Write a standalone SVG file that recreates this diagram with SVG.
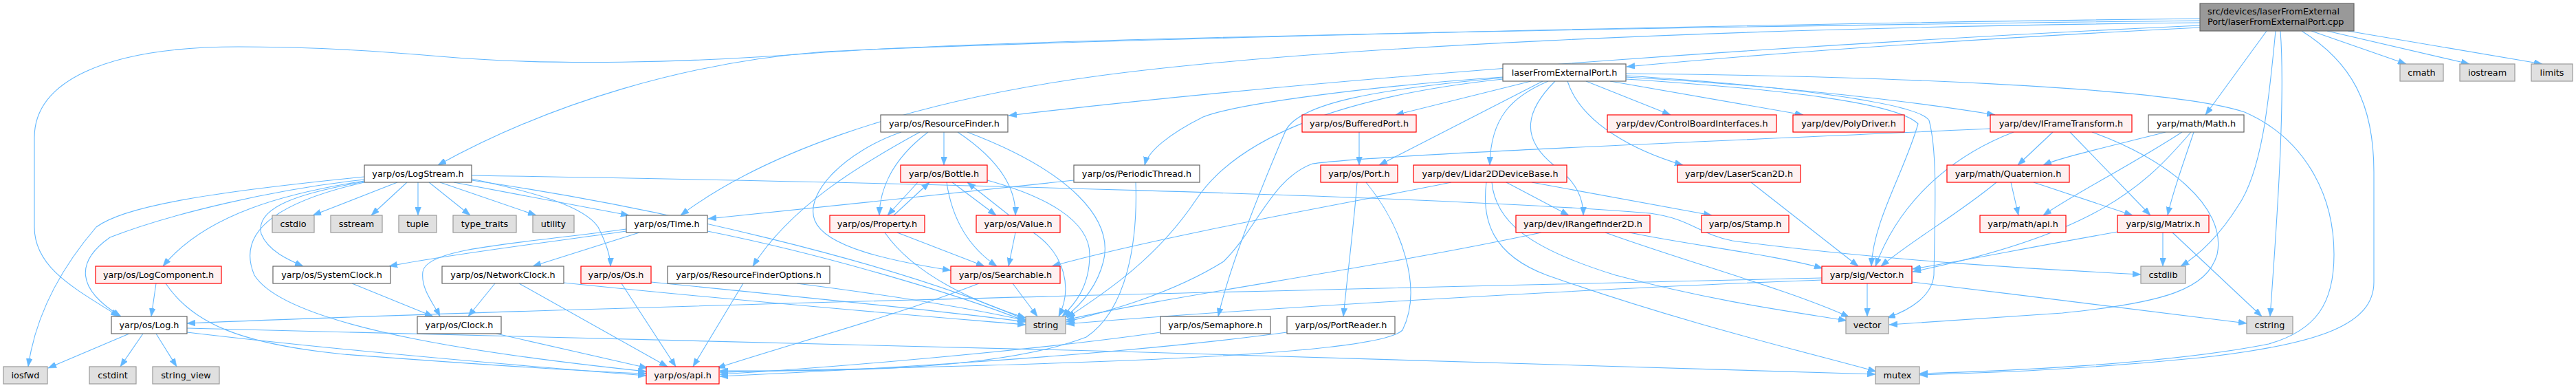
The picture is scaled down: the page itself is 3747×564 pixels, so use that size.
<svg xmlns="http://www.w3.org/2000/svg" width="3747" height="564" viewBox="0 0 3747 564">
<style>
.w{fill:#ffffff;stroke:#666666;stroke-width:1.2}
.r{fill:#fff0f0;stroke:#ff0000;stroke-width:1.2}
.g{fill:#e0e0e0;stroke:#999999;stroke-width:1.2}
.rt{fill:#999999;stroke:#666666;stroke-width:1.2}
text{font-family:"DejaVu Sans","Liberation Sans",sans-serif;font-size:12.8px;fill:#000000;text-anchor:middle}
text.l{text-anchor:start}
#edges path{fill:none;stroke:#63b8ff;stroke-width:1.1;marker-end:url(#ah)}
</style>
<defs>
<marker id="ah" viewBox="0 0 12 9" refX="12" refY="4.5" markerWidth="12" markerHeight="9" markerUnits="userSpaceOnUse" orient="auto"><path d="M0,0 L12,4.5 L0,9 z" fill="#63b8ff" stroke="#63b8ff" stroke-width="0.5"/></marker>
</defs>
<rect x="0" y="0" width="3747" height="564" fill="#ffffff"/>
<g id="edges">
<path d="M3200,40 C2900,55 2600,75 2366,97"/>
<path d="M3200,37 C2700,60 2000,105 1467,168"/>
<path d="M3200,27 C2500,35 1500,60 1200,75 C1000,90 800,150 637,240"/>
<path d="M3200,30 C2500,38 1500,55 1200,76 C1000,92 800,96 640,82 C500,70 420,68 347,68 C150,68 50,120 50,200 L50,330 C50,390 110,420 173,460"/>
<path d="M3200,33 C2500,40 1900,70 1600,110 C1300,150 1100,230 990,313"/>
<path d="M3362,45 L3500,93"/>
<path d="M3385,45 L3592,93"/>
<path d="M3415,45 L3698,93"/>
<path d="M3297,45 L3208,167"/>
<path d="M3310,45 C3300,150 3290,250 3255,300 C3230,340 3200,370 3172,387"/>
<path d="M3317,45 C3325,150 3310,350 3302,460"/>
<path d="M3348,45 C3420,90 3453,150 3453,250 L3453,410 C3453,470 3380,500 3200,520 C3000,540 2850,543 2792,545"/>
<path d="M2227,118 L2030,167"/>
<path d="M2244,118 L2006,240"/>
<path d="M2252,118 C2200,140 2168,170 2167,240"/>
<path d="M2262,118 C2220,160 2210,200 2260,240 C2295,265 2303,290 2303,313"/>
<path d="M2280,118 C2300,180 2380,220 2448,240"/>
<path d="M2307,118 L2430,167"/>
<path d="M2342,118 L2623,167"/>
<path d="M2365,112 C2600,125 2800,150 2902,167"/>
<path d="M2365,115 C2600,130 2760,150 2790,180 C2770,250 2725,320 2722,387"/>
<path d="M2365,110 C2600,125 2790,150 2806,175 C2818,220 2815,300 2813,400 C2810,430 2780,450 2745,462"/>
<path d="M2365,107 C2700,110 3150,125 3265,163 C3350,200 3395,280 3395,370 C3395,440 3370,480 3300,500 C3150,530 2900,540 2792,543"/>
<path d="M2186,112 C2000,125 1800,150 1750,170 C1700,195 1670,220 1665,240"/>
<path d="M2186,115 C1950,140 1800,200 1740,290 C1680,380 1600,430 1552,462"/>
<path d="M2186,113 C2000,130 1890,150 1870,190 C1840,260 1790,380 1772,460"/>
<path d="M1977,192 L1977,240"/>
<path d="M2986,192 L2935,240"/>
<path d="M3011,192 L3128,313"/>
<path d="M3043,192 C3150,230 3240,300 3225,370 C3210,420 3150,440 3000,455 C2850,465 2780,470 2748,472"/>
<path d="M2929,192 C2830,230 2760,300 2728,387"/>
<path d="M2895,187 C2500,205 2000,225 1909,238 C1850,260 1830,330 1780,380 C1700,430 1600,455 1551,468"/>
<path d="M2242,338 C2000,390 1700,430 1551,465"/>
<path d="M2335,338 C2450,380 2600,420 2690,461"/>
<path d="M2370,338 C2450,355 2580,370 2651,390"/>
<path d="M2111,265 C1990,290 1700,340 1530,387"/>
<path d="M2162,265 C2155,320 2170,370 2250,400 C2450,470 2620,510 2729,540"/>
<path d="M2170,265 C2175,320 2220,360 2350,400 C2500,440 2620,455 2686,466"/>
<path d="M2191,265 L2282,313"/>
<path d="M2228,265 L2490,313"/>
<path d="M1974,265 C1970,320 1960,400 1954,460"/>
<path d="M1987,265 C2040,330 2070,420 2040,480 C2000,520 1500,530 1047,541"/>
<path d="M1562,262 C1400,280 1200,300 1030,318"/>
<path d="M1652,265 C1655,350 1640,450 1580,490 C1450,540 1200,540 1047,539"/>
<path d="M1688,483 C1500,510 1200,535 1047,544"/>
<path d="M1872,483 C1600,520 1200,540 1047,547"/>
<path d="M3150,192 C3080,210 3000,228 2972,240"/>
<path d="M3174,192 C3100,240 3020,280 2972,313"/>
<path d="M3187,192 C3120,270 3050,340 2782,395"/>
<path d="M3191,192 C3175,240 3160,280 3153,313"/>
<path d="M2904,265 C2850,310 2780,350 2736,387"/>
<path d="M2925,265 L2936,313"/>
<path d="M2958,265 L3102,313"/>
<path d="M2547,265 L2703,387"/>
<path d="M3080,337 C2950,360 2850,380 2782,391"/>
<path d="M3146,338 L3146,387"/>
<path d="M3160,338 L3290,460"/>
<path d="M2716,412 L2716,460"/>
<path d="M2781,410 C2950,430 3150,455 3268,470"/>
<path d="M2650,404 C2200,415 1000,440 272,470"/>
<path d="M2650,407 C2300,420 1800,450 1551,471"/>
<path d="M578,265 L455,313"/>
<path d="M592,265 L540,313"/>
<path d="M608,265 L608,313"/>
<path d="M624,265 L684,313"/>
<path d="M640,265 L780,313"/>
<path d="M660,265 L915,313"/>
<path d="M686,260 C780,280 850,300 870,330 C885,360 888,375 888,387"/>
<path d="M686,262 C950,300 1300,380 1492,465"/>
<path d="M686,255 C1300,265 2100,285 2400,310 C2460,318 2470,340 2520,350 C2750,380 2980,392 3114,399"/>
<path d="M530,263 C420,280 300,310 237,387"/>
<path d="M530,264 C440,280 370,300 380,340 C390,365 420,378 441,387"/>
<path d="M530,265 C420,290 340,330 370,400 C420,480 750,520 940,540"/>
<path d="M530,261 C400,275 250,310 160,345 C110,380 110,420 176,460"/>
<path d="M530,257 C300,280 180,300 140,330 C80,400 50,470 41,533"/>
<path d="M227,412 L220,460"/>
<path d="M241,412 C280,470 350,500 500,515 C700,530 850,540 940,543"/>
<path d="M512,412 L630,460"/>
<path d="M188,485 L70,535"/>
<path d="M208,485 L175,533"/>
<path d="M227,485 L257,533"/>
<path d="M272,483 C500,510 800,535 940,546"/>
<path d="M272,477 C900,490 2000,520 2728,544"/>
<path d="M930,338 L775,387"/>
<path d="M911,333 C750,355 620,360 615,395 C612,420 630,440 640,460"/>
<path d="M911,336 C800,352 650,370 566,387"/>
<path d="M1029,336 C1200,370 1400,430 1492,467"/>
<path d="M720,412 L681,460"/>
<path d="M755,412 L971,533"/>
<path d="M820,411 C1100,440 1350,460 1492,472"/>
<path d="M904,412 L983,533"/>
<path d="M947,410 C1150,430 1400,455 1492,468"/>
<path d="M1081,412 L1008,533"/>
<path d="M1159,412 C1300,430 1420,450 1492,466"/>
<path d="M722,485 L942,535"/>
<path d="M1424,412 C1300,460 1150,500 1043,535"/>
<path d="M1473,412 L1509,460"/>
<path d="M1373,192 L1373,240"/>
<path d="M1350,192 C1300,230 1280,270 1279,313"/>
<path d="M1393,192 C1450,230 1478,270 1477,313"/>
<path d="M1407,192 C1560,250 1620,320 1605,380 C1595,420 1570,445 1548,462"/>
<path d="M1338,192 C1250,240 1150,300 1095,387"/>
<path d="M1311,192 C1230,220 1170,280 1185,320 C1200,360 1300,380 1383,393"/>
<path d="M1335,265 L1291,313"/>
<path d="M1300,313 L1352,265"/>
<path d="M1385,265 L1449,313"/>
<path d="M1468,313 L1407,265"/>
<path d="M1377,265 C1385,320 1410,360 1450,387"/>
<path d="M1436,262 C1520,285 1585,320 1585,370 C1585,420 1560,445 1545,460"/>
<path d="M1305,338 L1432,387"/>
<path d="M1287,338 C1330,400 1420,440 1492,462"/>
<path d="M1477,338 L1467,387"/>
<path d="M1503,338 C1550,370 1560,420 1540,460"/>
</g>
<g id="n_root"><rect class="rt" x="3200" y="5" width="224" height="40"/><text class="l" x="3211" y="21">src/devices/laserFromExternal</text><text class="l" x="3211" y="36">Port/laserFromExternalPort.cpp</text></g>
<g id="n_lfep"><rect class="w" x="2186" y="93" width="179" height="25"/><text x="2275.5" y="110">laserFromExternalPort.h</text></g>
<g id="n_cmath"><rect class="g" x="3491" y="93" width="63" height="25"/><text x="3522.5" y="110">cmath</text></g>
<g id="n_iostream"><rect class="g" x="3578" y="93" width="80" height="25"/><text x="3618" y="110">iostream</text></g>
<g id="n_limits"><rect class="g" x="3682" y="93" width="60" height="25"/><text x="3712" y="110">limits</text></g>
<g id="n_rf"><rect class="w" x="1281" y="167" width="185" height="25"/><text x="1373.5" y="184">yarp/os/ResourceFinder.h</text></g>
<g id="n_bport"><rect class="r" x="1894" y="167" width="166" height="25"/><text x="1977" y="184">yarp/os/BufferedPort.h</text></g>
<g id="n_cbi"><rect class="r" x="2338" y="167" width="246" height="25"/><text x="2461" y="184">yarp/dev/ControlBoardInterfaces.h</text></g>
<g id="n_poly"><rect class="r" x="2608" y="167" width="162" height="25"/><text x="2689" y="184">yarp/dev/PolyDriver.h</text></g>
<g id="n_ift"><rect class="r" x="2895" y="167" width="206" height="25"/><text x="2998" y="184">yarp/dev/IFrameTransform.h</text></g>
<g id="n_math"><rect class="w" x="3125" y="167" width="139" height="25"/><text x="3194.5" y="184">yarp/math/Math.h</text></g>
<g id="n_logstream"><rect class="w" x="530" y="240" width="156" height="25"/><text x="608" y="257">yarp/os/LogStream.h</text></g>
<g id="n_bottle"><rect class="r" x="1310" y="240" width="126" height="25"/><text x="1373" y="257">yarp/os/Bottle.h</text></g>
<g id="n_pthread"><rect class="w" x="1562" y="240" width="183" height="25"/><text x="1653.5" y="257">yarp/os/PeriodicThread.h</text></g>
<g id="n_port"><rect class="r" x="1921" y="240" width="112" height="25"/><text x="1977" y="257">yarp/os/Port.h</text></g>
<g id="n_lidar"><rect class="r" x="2056" y="240" width="223" height="25"/><text x="2167.5" y="257">yarp/dev/Lidar2DDeviceBase.h</text></g>
<g id="n_lscan"><rect class="r" x="2440" y="240" width="179" height="25"/><text x="2529.5" y="257">yarp/dev/LaserScan2D.h</text></g>
<g id="n_quat"><rect class="r" x="2832" y="240" width="178" height="25"/><text x="2921" y="257">yarp/math/Quaternion.h</text></g>
<g id="n_cstdio"><rect class="g" x="396" y="313" width="61" height="25"/><text x="426.5" y="330">cstdio</text></g>
<g id="n_sstream"><rect class="g" x="481" y="313" width="75" height="25"/><text x="518.5" y="330">sstream</text></g>
<g id="n_tuple"><rect class="g" x="580" y="313" width="55" height="25"/><text x="607.5" y="330">tuple</text></g>
<g id="n_typetraits"><rect class="g" x="659" y="313" width="92" height="25"/><text x="705" y="330">type_traits</text></g>
<g id="n_utility"><rect class="g" x="775" y="313" width="60" height="25"/><text x="805" y="330">utility</text></g>
<g id="n_time"><rect class="w" x="911" y="313" width="118" height="25"/><text x="970" y="330">yarp/os/Time.h</text></g>
<g id="n_property"><rect class="r" x="1207" y="313" width="138" height="25"/><text x="1276" y="330">yarp/os/Property.h</text></g>
<g id="n_value"><rect class="r" x="1420" y="313" width="122" height="25"/><text x="1481" y="330">yarp/os/Value.h</text></g>
<g id="n_irange"><rect class="r" x="2205" y="313" width="195" height="25"/><text x="2302.5" y="330">yarp/dev/IRangefinder2D.h</text></g>
<g id="n_stamp"><rect class="r" x="2475" y="313" width="127" height="25"/><text x="2538.5" y="330">yarp/os/Stamp.h</text></g>
<g id="n_mathapi"><rect class="r" x="2880" y="313" width="125" height="25"/><text x="2942.5" y="330">yarp/math/api.h</text></g>
<g id="n_matrix"><rect class="r" x="3080" y="313" width="133" height="25"/><text x="3146.5" y="330">yarp/sig/Matrix.h</text></g>
<g id="n_logcomp"><rect class="r" x="139" y="387" width="183" height="25"/><text x="230.5" y="404">yarp/os/LogComponent.h</text></g>
<g id="n_sysclock"><rect class="w" x="397" y="387" width="171" height="25"/><text x="482.5" y="404">yarp/os/SystemClock.h</text></g>
<g id="n_netclock"><rect class="w" x="643" y="387" width="177" height="25"/><text x="731.5" y="404">yarp/os/NetworkClock.h</text></g>
<g id="n_os"><rect class="r" x="845" y="387" width="102" height="25"/><text x="896" y="404">yarp/os/Os.h</text></g>
<g id="n_rfo"><rect class="w" x="971" y="387" width="236" height="25"/><text x="1089" y="404">yarp/os/ResourceFinderOptions.h</text></g>
<g id="n_searchable"><rect class="r" x="1383" y="387" width="159" height="25"/><text x="1462.5" y="404">yarp/os/Searchable.h</text></g>
<g id="n_vector_h"><rect class="r" x="2650" y="387" width="131" height="25"/><text x="2715.5" y="404">yarp/sig/Vector.h</text></g>
<g id="n_cstdlib"><rect class="g" x="3114" y="387" width="65" height="25"/><text x="3146.5" y="404">cstdlib</text></g>
<g id="n_log"><rect class="w" x="162" y="460" width="110" height="25"/><text x="217" y="477">yarp/os/Log.h</text></g>
<g id="n_clock"><rect class="w" x="607" y="460" width="122" height="25"/><text x="668" y="477">yarp/os/Clock.h</text></g>
<g id="n_string"><rect class="g" x="1492" y="460" width="58" height="25"/><text x="1521" y="477">string</text></g>
<g id="n_semaphore"><rect class="w" x="1688" y="460" width="160" height="25"/><text x="1768" y="477">yarp/os/Semaphore.h</text></g>
<g id="n_portreader"><rect class="w" x="1872" y="460" width="157" height="25"/><text x="1950.5" y="477">yarp/os/PortReader.h</text></g>
<g id="n_vector"><rect class="g" x="2685" y="460" width="62" height="25"/><text x="2716" y="477">vector</text></g>
<g id="n_cstring"><rect class="g" x="3268" y="460" width="67" height="25"/><text x="3301.5" y="477">cstring</text></g>
<g id="n_iosfwd"><rect class="g" x="5" y="533" width="64" height="25"/><text x="37" y="550">iosfwd</text></g>
<g id="n_cstdint"><rect class="g" x="130" y="533" width="68" height="25"/><text x="164" y="550">cstdint</text></g>
<g id="n_stringview"><rect class="g" x="222" y="533" width="97" height="25"/><text x="270.5" y="550">string_view</text></g>
<g id="n_api"><rect class="r" x="940" y="533" width="106" height="25"/><text x="993" y="550">yarp/os/api.h</text></g>
<g id="n_mutex"><rect class="g" x="2728" y="533" width="64" height="25"/><text x="2760" y="550">mutex</text></g>
</svg>
